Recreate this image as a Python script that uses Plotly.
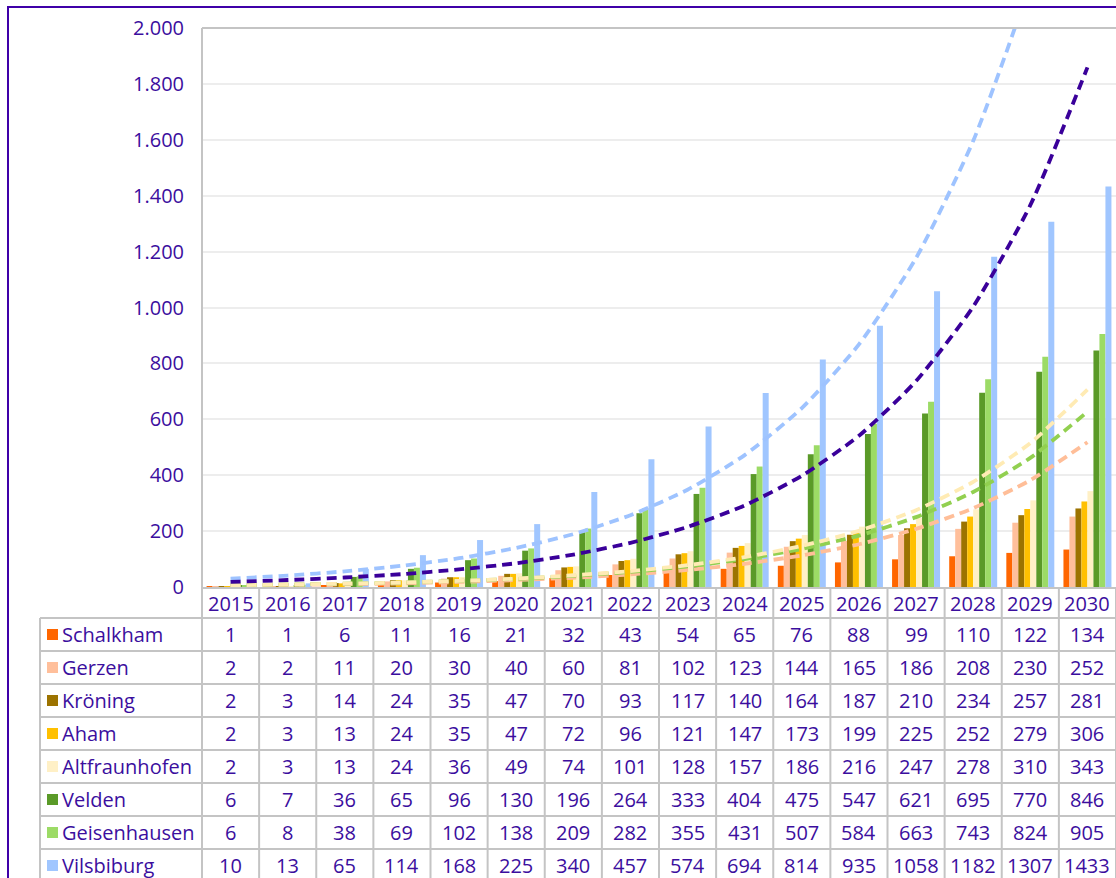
import plotly.graph_objects as go

# ---------------- data ----------------
years = [str(y) for y in range(2015, 2031)]
series_names = ["Schalkham", "Gerzen", "Kröning", "Aham", "Altfraunhofen",
                "Velden", "Geisenhausen", "Vilsbiburg"]
schalkham = [1, 1, 6, 11, 16, 21, 32, 43, 54, 65, 76, 88, 99, 110, 122, 134]
gerzen = [2, 2, 11, 20, 30, 40, 60, 81, 102, 123, 144, 165, 186, 208, 230, 252]
kroening = [2, 3, 14, 24, 35, 47, 70, 93, 117, 140, 164, 187, 210, 234, 257, 281]
aham = [2, 3, 13, 24, 35, 47, 72, 96, 121, 147, 173, 199, 225, 252, 279, 306]
altfraunhofen = [2, 3, 13, 24, 36, 49, 74, 101, 128, 157, 186, 216, 247, 278, 310, 343]
velden = [6, 7, 36, 65, 96, 130, 196, 264, 333, 404, 475, 547, 621, 695, 770, 846]
geisenhausen = [6, 8, 38, 69, 102, 138, 209, 282, 355, 431, 507, 584, 663, 743, 824, 905]
vilsbiburg = [10, 13, 65, 114, 168, 225, 340, 457, 574, 694, 814, 935, 1058, 1182, 1307, 1433]
series_values = [schalkham, gerzen, kroening, aham, altfraunhofen, velden,
                 geisenhausen, vilsbiburg]

# dashed trend curves (values at each year)
trend_vilsbiburg = [30, 41, 56, 76, 103, 140, 189, 257, 348, 472, 640, 868, 1177, 1596, 2165, 2937]
trend_geisenhausen = [18, 25, 34, 46, 63, 85, 116, 158, 215, 292, 398, 541, 737, 1003, 1366, 1859]
trend_altfraunhofen = [6, 9, 12, 16, 22, 30, 42, 57, 78, 107, 147, 201, 275, 376, 515, 706]
trend_aham = [6, 9, 12, 16, 22, 29, 40, 54, 74, 100, 136, 184, 250, 340, 462, 627]
trend_gerzen = [5, 7, 10, 13, 18, 25, 33, 45, 61, 83, 113, 153, 208, 282, 382, 518]

y_tick_values = [0, 200, 400, 600, 800, 1000, 1200, 1400, 1600, 1800, 2000]
y_tick_labels = ["0", "200", "400", "600", "800", "1.000", "1.200", "1.400",
                 "1.600", "1.800", "2.000"]

# ---------------- style ----------------
bar_colors = ["#FF6600", "#FFBF9B", "#9C7300", "#FFC000", "#FFF0C6",
              "#5A9A28", "#9CDB66", "#A0C6FF"]
trends = [
    (trend_gerzen, "#FFBE98"),
    (trend_aham, "#92D050"),
    (trend_altfraunhofen, "#FFEBB4"),
    (trend_vilsbiburg, "#9EC3FF"),
    (trend_geisenhausen, "#3A009A"),
]
TEXT = "#3B0E9E"
GRID = "#EDEDED"
LINE = "#C4C4C4"
FONT = "Open Sans"
FS = 20

W, H = 1116, 878
L, R, T, B = 202, 0, 28, 0
PLOT_BOTTOM = 587          # pixel row of the value-0 line
d0 = (H - B - PLOT_BOTTOM) / (H - T - B)


def px_x(p):
    """pixel x -> paper coordinate"""
    return (p - L) / (W - L - R)


def px_y(p):
    """pixel y -> paper coordinate"""
    return (H - B - p) / (H - T - B)


fig = go.Figure()
for name, vals, col in zip(series_names, series_values, bar_colors):
    fig.add_trace(go.Bar(x=years, y=vals, name=name, marker_color=col,
                         marker_line_width=0, xaxis="x", yaxis="y"))
for vals, col in trends:
    fig.add_trace(go.Scatter(x=years, y=vals, mode="lines",
                             line=dict(color=col, width=3.8, dash="10px,6px",
                                       shape="spline", smoothing=0.6),
                             xaxis="x", yaxis="y", showlegend=False,
                             hoverinfo="skip"))

# ---------------- data table ----------------
HEADER_TOP = 587
HEADER_BOT = 618
ROW_H = 33
row_tops = [HEADER_BOT + i * ROW_H for i in range(len(series_names))]
TABLE_LEFT = 40

shapes = []
# outer purple frame
shapes.append(dict(type="rect", xref="paper", yref="paper",
                   x0=px_x(8), x1=px_x(W + 40), y0=px_y(H + 40), y1=px_y(7),
                   line=dict(color="#3F00A8", width=2), fillcolor="rgba(0,0,0,0)",
                   layer="above"))
# plot top border and left axis line (extends through table)
shapes.append(dict(type="line", xref="paper", yref="paper", x0=0, x1=1.02,
                   y0=1, y1=1, line=dict(color=LINE, width=2)))
shapes.append(dict(type="line", xref="paper", yref="paper", x0=0, x1=0,
                   y0=px_y(H + 5), y1=1, line=dict(color=LINE, width=2)))
# vertical column lines
for i in range(len(years)):
    shapes.append(dict(type="line", xref="x", yref="y2", x0=i + 0.5, x1=i + 0.5,
                       y0=HEADER_TOP, y1=H + 5, line=dict(color=LINE, width=2)))
shapes.append(dict(type="line", xref="paper", yref="y2", x0=px_x(TABLE_LEFT),
                   x1=px_x(TABLE_LEFT), y0=HEADER_BOT, y1=H + 5,
                   line=dict(color=LINE, width=2)))
# horizontal row lines
for top in row_tops:
    shapes.append(dict(type="line", xref="paper", yref="y2", x0=px_x(TABLE_LEFT),
                       x1=1.02, y0=top, y1=top, line=dict(color=LINE, width=2)))

annotations = []
for i, yr in enumerate(years):
    annotations.append(dict(x=i, y=(HEADER_TOP + HEADER_BOT) / 2 + 1, xref="x", yref="y2",
                            text=yr, showarrow=False,
                            font=dict(family=FONT, size=FS, color=TEXT)))
for top, name, vals, col in zip(row_tops, series_names, series_values, bar_colors):
    cy = top + ROW_H / 2
    shapes.append(dict(type="rect", xref="paper", yref="y2", x0=px_x(47), x1=px_x(58),
                       y0=cy - 5.5, y1=cy + 5.5, fillcolor=col, line=dict(width=0)))
    annotations.append(dict(x=px_x(60), y=cy, xref="paper", yref="y2", text=name,
                            xanchor="left", showarrow=False,
                            font=dict(family=FONT, size=FS, color=TEXT)))
    for i, v in enumerate(vals):
        annotations.append(dict(x=i, y=cy, xref="x", yref="y2", text=str(v),
                                showarrow=False,
                                font=dict(family=FONT, size=FS, color=TEXT)))

fig.update_layout(
    width=W, height=H,
    margin=dict(l=L, r=R, t=T, b=B, pad=0, autoexpand=False),
    paper_bgcolor="white", plot_bgcolor="white",
    barmode="group", bargap=0.16, bargroupgap=0,
    showlegend=False,
    font=dict(family=FONT, size=FS, color=TEXT),
    xaxis=dict(type="category", range=[-0.5, 15.5], showticklabels=False,
               showgrid=False, zeroline=False, showline=True, linecolor=LINE,
               linewidth=2, ticks="", anchor="y", fixedrange=True, automargin=False),
    yaxis=dict(domain=[d0, 1], range=[0, 2000], tickvals=y_tick_values,
               ticktext=y_tick_labels, tickfont=dict(family=FONT, size=FS, color=TEXT),
               showgrid=True, gridcolor=GRID, gridwidth=1.5, zeroline=False,
               showline=False, ticks="", ticklabelstandoff=17, anchor="x",
               automargin=False),
    yaxis2=dict(domain=[0, d0], range=[H, PLOT_BOTTOM], visible=False,
                showgrid=False, zeroline=False, anchor="x", automargin=False),
    shapes=shapes,
    annotations=annotations,
)

fig.write_html(
    "out.html",
    config={"displayModeBar": False},
    post_script="document.body.style.margin='0';"
                "document.documentElement.style.overflow='hidden';",
)
